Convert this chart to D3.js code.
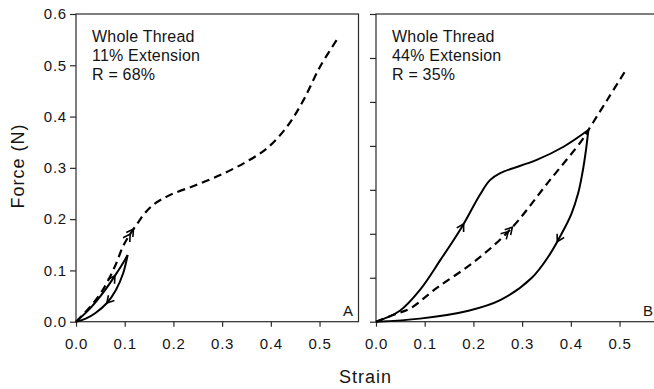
<!DOCTYPE html>
<html>
<head>
<meta charset="utf-8">
<script src="https://cdn.jsdelivr.net/npm/d3@7"></script>
<style>
  html, body { margin: 0; padding: 0; background: #fff; }
  svg { display: block; }
  text { font-family: "Liberation Sans", Arial, Helvetica, sans-serif; fill: #141414; }
</style>
</head>
<body>
<svg id="chart" width="654" height="389"></svg>
<script>
// ---------------- DATA ----------------
const xTicks = [0.0, 0.1, 0.2, 0.3, 0.4, 0.5];
const yTicksA = [0.0, 0.1, 0.2, 0.3, 0.4, 0.5, 0.6];
const yTicksB = [0.0, 0.1, 0.2, 0.3, 0.4, 0.5, 0.6, 0.7];

const annotationA = ["Whole Thread", "11% Extension", "R = 68%"];
const annotationB = ["Whole Thread", "44% Extension", "R = 35%"];

// Panel A: [strain, force]
const failureA = [[0,0],[0.03,0.03],[0.055,0.062],[0.08,0.108],[0.097,0.148],[0.112,0.172],
  [0.125,0.19],[0.14,0.21],[0.16,0.229],[0.193,0.247],[0.248,0.267],[0.303,0.289],
  [0.35,0.312],[0.392,0.338],[0.433,0.38],[0.467,0.432],[0.501,0.497],[0.535,0.549]];
const loadA = [[0,0],[0.03,0.027],[0.06,0.062],[0.085,0.097],[0.1,0.12],[0.106,0.13]];
const unloadA = [[0.106,0.13],[0.097,0.095],[0.082,0.062],[0.063,0.036],[0.04,0.017],[0.02,0.006],[0,0]];

// Panel B: [strain, force]
const failureB = [[0,0],[0.042,0.018],[0.07,0.03],[0.125,0.077],[0.2,0.135],[0.275,0.209],
  [0.357,0.322],[0.423,0.413],[0.436,0.436],[0.475,0.505],[0.515,0.576]];
const loadB = [[0,0],[0.049,0.025],[0.09,0.072],[0.132,0.14],[0.176,0.215],[0.214,0.29],
  [0.234,0.322],[0.255,0.338],[0.33,0.368],[0.385,0.398],[0.436,0.436]];
const unloadB = [[0.436,0.436],[0.431,0.39],[0.424,0.34],[0.415,0.292],[0.401,0.245],
  [0.38,0.198],[0.355,0.15],[0.32,0.1],[0.255,0.049],[0.19,0.025],[0.09,0.007],[0,0]];

// arrows: which curve, strain where it sits, number of chevrons
const arrowsA = [
  { curve: "failureA", strain: 0.118, count: 2 },
  { curve: "loadA", strain: 0.08, count: 1 },
  { curve: "unloadA", strain: 0.063, count: 1 }
];
const arrowsB = [
  { curve: "loadB", strain: 0.18, count: 1 },
  { curve: "failureB", strain: 0.28, count: 2 },
  { curve: "unloadB", strain: 0.372, count: 1 }
];

// ---------------- DRAW ----------------
const svg = d3.select("#chart");
const plotTop = 14, plotBottom = 321.7;

const panels = [
  { name: "A", x0: 76, x1: 358.5, yDomain: [0, 0.6], yTicks: yTicksA, yLabels: true,
    annotation: annotationA,
    curves: { failureA: { data: failureA, dashed: true }, loadA: { data: loadA }, unloadA: { data: unloadA } },
    arrows: arrowsA },
  { name: "B", x0: 376, x1: 658.5, yDomain: [0, 0.7], yTicks: yTicksB, yLabels: false,
    annotation: annotationB,
    curves: { failureB: { data: failureB, dashed: true }, loadB: { data: loadB }, unloadB: { data: unloadB } },
    arrows: arrowsB }
];

panels.forEach(p => {
  const x = d3.scaleLinear().domain([0, 0.58]).range([p.x0, p.x1]);
  const y = d3.scaleLinear().domain(p.yDomain).range([plotBottom, plotTop]);
  const g = svg.append("g");

  // frame
  g.append("rect")
    .attr("x", p.x0).attr("y", plotTop)
    .attr("width", p.x1 - p.x0).attr("height", plotBottom - plotTop)
    .attr("fill", "none").attr("stroke", "#2a2a2a").attr("stroke-width", 1.2);

  // y axis
  const ya = d3.axisLeft(y).tickValues(p.yTicks).tickSize(6).tickPadding(3)
    .tickFormat(p.yLabels ? d3.format(".1f") : () => "");
  const yg = g.append("g").attr("transform", `translate(${p.x0},0)`).call(ya);
  yg.select(".domain").remove();
  yg.selectAll("line").attr("stroke", "#2a2a2a").attr("stroke-width", 1.2);
  yg.selectAll("text").style("font-size", "15px").style("letter-spacing", "0.8px")
    .attr("fill", "#141414").attr("font-family", null);

  // x axis
  const xa = d3.axisBottom(x).tickValues(xTicks).tickSize(5).tickPadding(12)
    .tickFormat(d3.format(".1f"));
  const xg = g.append("g").attr("transform", `translate(0,${plotBottom})`).call(xa);
  xg.select(".domain").remove();
  xg.selectAll("line").attr("stroke", "#2a2a2a").attr("stroke-width", 1.2);
  xg.selectAll("text").style("font-size", "15px").style("letter-spacing", "0.8px")
    .attr("fill", "#141414").attr("font-family", null);

  // curves
  const line = d3.line().x(d => x(d[0])).y(d => y(d[1])).curve(d3.curveCatmullRom.alpha(0.5));
  const nodes = {};
  Object.entries(p.curves).forEach(([key, c]) => {
    const path = g.append("path")
      .attr("d", line(c.data))
      .attr("fill", "none")
      .attr("stroke", "#000")
      .attr("stroke-width", c.dashed ? 2.2 : 2)
      .attr("stroke-dasharray", c.dashed ? "8,5" : null)
      .attr("stroke-linejoin", "round");
    nodes[key] = path.node();
  });

  // arrows (open chevrons) placed along the curves
  p.arrows.forEach(a => {
    const node = nodes[a.curve];
    const L = node.getTotalLength();
    const tx = x(a.strain);
    let best = 0, bestD = Infinity;
    for (let l = 0; l <= L; l += 0.5) {
      const pt = node.getPointAtLength(l);
      const dd = Math.abs(pt.x - tx);
      if (dd < bestD) { bestD = dd; best = l; }
    }
    for (let k = 0; k < a.count; k++) {
      const l = Math.max(2, Math.min(L - 2, best - k * 6));
      const p1 = node.getPointAtLength(l - 2), p2 = node.getPointAtLength(l + 2);
      const ang = Math.atan2(p2.y - p1.y, p2.x - p1.x);
      const tip = node.getPointAtLength(l);
      const len = 8, spread = Math.PI / 6;
      const pts = [
        [tip.x - len * Math.cos(ang - spread), tip.y - len * Math.sin(ang - spread)],
        [tip.x, tip.y],
        [tip.x - len * Math.cos(ang + spread), tip.y - len * Math.sin(ang + spread)]
      ];
      g.append("path")
        .attr("d", d3.line()(pts))
        .attr("fill", "none").attr("stroke", "#000").attr("stroke-width", 1.6)
        .attr("stroke-linejoin", "miter");
    }
  });

  // annotation
  const ann = g.append("text").attr("x", p.x0 + 16).attr("y", 42)
    .style("font-size", "16px").style("letter-spacing", "0.2px");
  p.annotation.forEach((t, i) => {
    ann.append("tspan").attr("x", p.x0 + 16).attr("y", 42 + i * 19.2).text(t);
  });

  // panel letter
  g.append("text").attr("x", p.x0 + 267).attr("y", 316)
    .style("font-size", "15px").text(p.name);
});

// axis titles
svg.append("text")
  .attr("transform", "translate(24,166) rotate(-90)")
  .attr("text-anchor", "middle")
  .style("font-size", "18px").style("letter-spacing", "1px")
  .text("Force (N)");

svg.append("text")
  .attr("x", 365.5).attr("y", 383)
  .attr("text-anchor", "middle")
  .style("font-size", "18px").style("letter-spacing", "1px")
  .text("Strain");
</script>
</body>
</html>
